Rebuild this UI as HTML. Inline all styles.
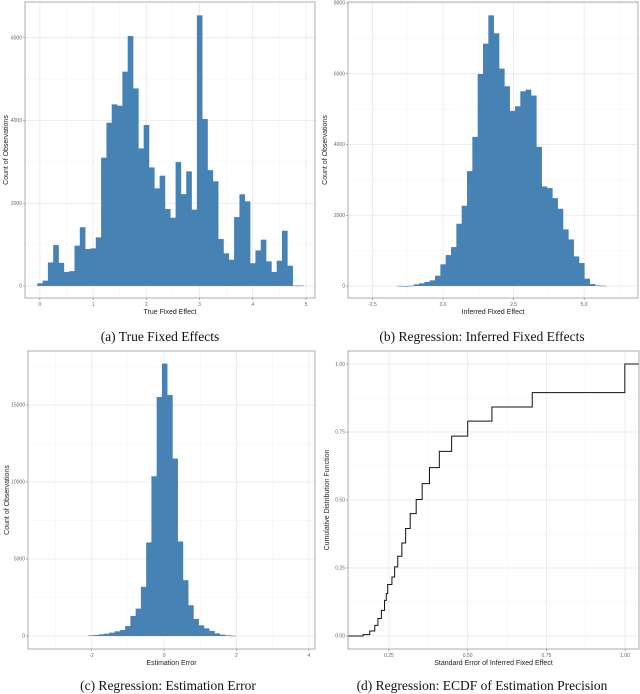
<!DOCTYPE html>
<html><head><meta charset="utf-8"><style>
body{margin:0;background:#fff;}
svg{display:block;}
.tick{font-family:"Liberation Sans",sans-serif;font-size:5px;fill:#666;}
.axt{font-family:"Liberation Sans",sans-serif;font-size:7px;fill:#222;}
.cap{font-family:"Liberation Serif",serif;font-size:13.5px;fill:#111;}
</style></head><body>
<svg id="fig" width="640" height="694" viewBox="0 0 640 694" xmlns="http://www.w3.org/2000/svg">
<text class="cap" x="160" y="341" text-anchor="middle">(a) True Fixed Effects</text>
<text class="cap" x="482" y="341" text-anchor="middle">(b) Regression: Inferred Fixed Effects</text>
<text class="cap" x="168" y="690" text-anchor="middle">(c) Regression: Estimation Error</text>
<text class="cap" x="482" y="690" text-anchor="middle">(d) Regression: ECDF of Estimation Precision</text>
</svg>
<script>
// Panel (a) data
const aStart = -0.05, aWidth = 0.1;
const aCounts = [65,130,570,990,560,340,360,975,1420,895,910,1175,3100,3945,4390,4355,5180,6040,4775,3325,3890,2865,2360,2665,1860,1650,2995,2220,2770,1845,6540,4035,2800,2530,1135,790,635,1665,2215,2045,550,860,1120,595,340,610,1335,490,10,10];
const aXTicks = [0,1,2,3,4,5];
const aYTicks = [0,2000,4000,6000];
// Panel (b) data
const bStart = -1.608, bWidth = 0.189;
const bCounts = [5,0,9,47,75,113,160,292,612,875,1101,1760,2268,3246,4216,5994,6850,7650,7142,6145,5646,4950,5081,5505,5552,5383,3933,2814,2767,2484,2183,1600,1317,837,649,207,56,19,9];
const bXTicks = [-2.5,0,2.5,5];
const bXLabels = ["-2.5","0.0","2.5","5.0"];
const bYTicks = [0,2000,4000,6000,8000];
// Panel (c) data
const cStart = -2.09, cWidth = 0.145;
const cCounts = [43,65,109,152,217,304,391,651,1302,1779,3190,6076,10373,15516,17686,15646,11523,6141,3624,1996,1107,694,499,326,174,87,43,22];
const cXTicks = [-2,0,2,4];
const cYTicks = [0,5000,10000,15000];
// Panel (d) data (ECDF step points)
const dX = [0.12,0.147,0.168,0.189,0.205,0.215,0.226,0.236,0.2416,0.246,0.2595,0.268,0.278,0.291,0.303,0.3175,0.3365,0.3555,0.3787,0.410,0.449,0.500,0.577,0.705,0.999];
const dY = [0,0,0.005,0.018,0.039,0.064,0.094,0.131,0.156,0.189,0.217,0.254,0.293,0.342,0.395,0.450,0.502,0.560,0.619,0.679,0.735,0.790,0.842,0.895,0.952];
const dLastY = 1.0;
const dXTicks = [0.25,0.5,0.75,1.0];
const dXLabels = ["0.25","0.50","0.75","1.00"];
const dYTicks = [0,0.25,0.5,0.75,1.0];
const dYLabels = ["0.00","0.25","0.50","0.75","1.00"];

const NS="http://www.w3.org/2000/svg";
const svg=document.getElementById('fig');
function mk(tag,attrs,parent){const e=document.createElementNS(NS,tag);for(const k in attrs)e.setAttribute(k,attrs[k]);(parent||svg).appendChild(e);return e;}

function panel(p){
  const g=mk('g',{});
  
  
  const sx=v=>p.x0+(v-p.xmin)/(p.xmax-p.xmin)*(p.x1-p.x0);
  const sy=v=>p.y1-(v-p.ymin)/(p.ymax-p.ymin)*(p.y1-p.y0);
  const gx=[...p.xt]; const mx=[];
  for(let i=0;i<p.xt.length-1;i++)mx.push((p.xt[i]+p.xt[i+1])/2);
  mx.push(p.xt[0]-(p.xt[1]-p.xt[0])/2); mx.push(p.xt[p.xt.length-1]+(p.xt[1]-p.xt[0])/2);
  const my=[]; for(let i=0;i<p.yt.length-1;i++)my.push((p.yt[i]+p.yt[i+1])/2);
  my.push(p.yt[p.yt.length-1]+(p.yt[1]-p.yt[0])/2);
  mx.forEach(v=>{const X=sx(v);if(X>p.x0&&X<p.x1){const l=mk('line',{x1:X,x2:X,y1:p.y0,y2:p.y1,stroke:'#f3f3f3','stroke-width':0.5},g);}});
  my.forEach(v=>{const Y=sy(v);if(Y>p.y0&&Y<p.y1){const l=mk('line',{x1:p.x0,x2:p.x1,y1:Y,y2:Y,stroke:'#f3f3f3','stroke-width':0.5},g);}});
  gx.forEach(v=>{const X=sx(v);const l=mk('line',{x1:X,x2:X,y1:p.y0,y2:p.y1,stroke:'#e8e8e8','stroke-width':0.8},g);});
  p.yt.forEach(v=>{const Y=sy(v);const l=mk('line',{x1:p.x0,x2:p.x1,y1:Y,y2:Y,stroke:'#e8e8e8','stroke-width':0.8},g);});
  if(p.counts){
    p.counts.forEach((c,i)=>{
      const xa=sx(p.start+i*p.width), xb=sx(p.start+(i+1)*p.width);
      const r=mk('rect',{x:xa,y:sy(c),width:xb-xa+0.3,height:Math.max(0.6,sy(0)-sy(c)),fill:'#4682b4'},g);
      
      
    });
  }
  if(p.ecdf){
    let d='M'+sx(p.ecdf.x[0])+','+sy(p.ecdf.y[0]);
    for(let i=1;i<p.ecdf.x.length;i++){d+=' H'+sx(p.ecdf.x[i])+' V'+sy(p.ecdf.y[i]);}
    d+=' V'+sy(p.ecdf.last)+' H'+p.x1;
    const pa=mk('path',{d:d,fill:'none',stroke:'#111','stroke-width':1},g);
    
    
  }
  const b=mk('rect',{x:p.x0,y:p.y0,width:p.x1-p.x0,height:p.y1-p.y0,fill:'none',stroke:'#999','stroke-width':0.8},g);
  
  
  p.xt.forEach((v,i)=>{const X=sx(v);mk('line',{x1:X,x2:X,y1:p.y1,y2:p.y1+2,stroke:'#666','stroke-width':0.5},g);
    const t=mk('text',{x:X,y:p.y1+8,'text-anchor':'middle',class:'tick'},g);t.textContent=p.xl?p.xl[i]:String(v);
    });
  p.yt.forEach((v,i)=>{const Y=sy(v);mk('line',{x1:p.x0-2,x2:p.x0,y1:Y,y2:Y,stroke:'#666','stroke-width':0.5},g);
    const t=mk('text',{x:p.x0-3,y:Y+1.7,'text-anchor':'end',class:'tick'},g);t.textContent=p.yl?p.yl[i]:String(v);
    });
  const xt=mk('text',{x:(p.x0+p.x1)/2,y:p.y1+16,'text-anchor':'middle',class:'axt'},g);xt.textContent=p.xtitle;
  
  const cy=(p.y0+p.y1)/2, cx=p.ytx;
  const yt=mk('text',{x:cx,y:cy,'text-anchor':'middle',class:'axt',transform:'rotate(-90 '+cx+' '+cy+')'},g);yt.textContent=p.ytitle;
  
}

panel({name:'panel-a',x0:25,x1:315,y0:2,y1:298,xmin:-0.28,xmax:5.17,ymin:-290,ymax:6863,
  counts:aCounts,start:aStart,width:aWidth,xt:aXTicks,yt:aYTicks,
  xtitle:'True Fixed Effect',ytitle:'Count of Observations',ytx:8});
panel({name:'panel-b',x0:348,x1:638,y0:2,y1:298,xmin:-3.37,xmax:6.91,ymin:-339,ymax:8028,
  counts:bCounts,start:bStart,width:bWidth,xt:bXTicks,xl:bXLabels,yt:bYTicks,
  xtitle:'Inferred Fixed Effect',ytitle:'Count of Observations',ytx:327});
panel({name:'panel-c',x0:28,x1:315,y0:351,y1:649,xmin:-3.76,xmax:4.17,ymin:-844,ymax:18506,
  counts:cCounts,start:cStart,width:cWidth,xt:cXTicks,yt:cYTicks,
  xtitle:'Estimation Error',ytitle:'Count of Observations',ytx:9});
panel({name:'panel-d',x0:348,x1:639,y0:351,y1:649,xmin:0.12,xmax:1.044,ymin:-0.048,ymax:1.048,
  ecdf:{x:dX,y:dY,last:dLastY},xt:dXTicks,xl:dXLabels,yt:dYTicks,yl:dYLabels,
  xtitle:'Standard Error of Inferred Fixed Effect',ytitle:'Cumulative Distribution Function',ytx:329});
</script>
</body></html>
